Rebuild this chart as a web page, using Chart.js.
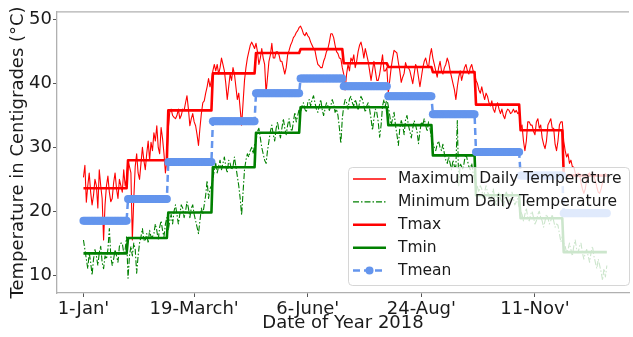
<!DOCTYPE html>
<html>
<head>
<meta charset="utf-8">
<script src="https://cdn.jsdelivr.net/npm/chart.js@4.4.1/dist/chart.umd.min.js"></script>
<style>
  html, body { margin: 0; padding: 0; background: #ffffff; }
  #wrap { width: 633px; height: 337px; }
</style>
</head>
<body>
<div id="wrap"><canvas id="chart" width="633" height="337"></canvas></div>
<script>
// First day-of-year index of each month (2018, not a leap year)
const monthStartDays = [0, 31, 59, 90, 120, 151, 181, 212, 243, 273, 304, 334];

// Tick positions (day of year) and their labels
const tickDays = [0, 77, 156, 235, 314];
const tickLabels = ["1-Jan'", "19-March'", "6-June'", "24-Aug'", "11-Nov'"];
const yTickValues = [10, 20, 30, 40, 50];

// Daily maximum temperature, one row per month
const dailyMax = [
  25.3,27.2,21.4,24,26,23,21,22.5,25,24,20.5,26.5,24,22,15.5,21,24,25.5,23,21.5,22,24.5,26,23.5,22,25,24,23,26.5,24,25,
  28,27,26,15.5,22,27,29,26,25,27.5,30,28,26.5,29,31,28,30.8,29.5,32.3,31,33.4,30,29,33.1,31.4,29,26,28,
  33,35.5,36,35,34.7,34.5,35,36,34.5,35,36,35.8,37,38.1,36,33.4,34.5,35.3,34,33.4,32,30.3,33,35.3,37,37.3,38.5,39.5,40.8,39.5,40.5,
  42,43,42,43,41.5,42.5,44,43,42,40,37.5,39.5,41.5,40.5,42.5,41.5,39.5,37.5,38.5,36,33.5,37,40.5,42.5,44,45,46,46.5,46,45.5,
  46.3,45,43,44,45.5,44,43,38.5,41,43.5,44.5,46.3,44,44,45,45,44.5,43.5,43.5,42.5,41.5,42.5,44.5,45.2,46,46.5,47.2,47.5,48,48.3,48.8,
  49,48.5,47.8,47.5,48,47.5,47.2,46.5,46,45.5,45.2,44,43,42.8,42.5,42.5,43.5,44.1,45,45.5,46.5,47.8,47.8,47.2,46,45,44.7,44,43.9,42.5,
  41.5,39,41.5,43,42,44,43.5,44.5,42.5,43.5,45,46,46.5,45.5,44,45.5,44.5,43.5,42,40.5,42,43.5,42,40.5,40.5,41.5,43,44.5,42,42,42.5,
  38.5,40.5,42.5,44,45.2,45,44.8,43.3,42,40.2,41,41.6,43.3,42.5,42.5,42,41,40,41.5,43,42.5,41,39.5,41,42.5,43.5,44,43,42.5,44.4,45.5,
  44,43,42,41,42.5,43.5,42,41.5,42.5,43,44,43.3,42,41,40,39,37.5,39.5,41,42,40.5,41.5,42.5,43,42,41.5,42.5,43,42,41.5,
  40.5,40,39,38.5,39.5,38.4,37.5,38.5,38,37,36.5,37.3,36,35.5,36.5,37,36,35.3,36,35,34.5,35.5,36,35.8,35.3,35.5,36,35.5,35.8,35.3,35.5,
  33,33.5,31,29.5,31,34,34,33.5,33.5,32.5,32,34,34.5,33,33.5,31.5,30.5,29.8,31,33.5,34,34.5,33,33,30.5,29.5,31,33.5,34,34,
  31,29.5,28.5,29,27.5,28,27,26.9,26,25.5,26,25.8,24.5,23.5,22.8,23.5,25,25.8,26,25.5,25.9,25.5,24.8,23.8,23,22.8,23.5,24.5,25.5,25.9,25.6
];

// Daily minimum temperature, one row per month
const dailyMin = [
  15.5,14,12.5,11,13.5,12,10,12.5,14,13,11.5,13.5,14.5,12,11,13,12.5,14,17.3,13,11.5,12.5,14,13,12,14.5,15,15,13.5,14,16,
  9.5,13,14.5,13,15,14,10.3,13,15,16,17.3,15.5,15.5,16.5,15,17,16,16,16.5,18,17,15.5,17.5,18.5,17,16,18,19,
  17,18.5,19.5,18,20,21,19.5,18,19.5,21,20.5,19,20,21.5,20.5,19,20.5,21,19.5,18.5,17.5,16.5,18.5,20.5,19.5,21,22.5,24.8,22,23.5,24,
  25,26.5,27.5,26,27,28,26.5,27.5,28.5,27,26,28,27.5,26.5,27,28.5,27,25.5,24,22,19.4,23,26.5,28,29,28.5,29.5,30,29,30.5,
  31,32.5,33,31.5,30,29,28,27.5,29.5,31,32.5,33.5,32,31,33,34,32.5,31.5,33,34.5,33,32,33.5,34.5,33,32.5,34,35.5,34,35,36,
  35.5,36.5,37,36,35.5,37,37.5,36.5,37.5,38.1,37,36,35.5,36.5,37.5,36,35,36,37,36.5,35.8,36.5,37.5,36.8,35.5,36,35,33,30.6,34.5,
  36.5,37.5,37,36,37.6,38,37,36.5,37.5,36.8,35.8,37,38,37.5,36.5,35.5,36.5,37,36,34.5,32.7,34.5,36,35.5,34,31.6,33.5,36.5,37.5,36.5,37.6,
  36.5,35,33.5,34.5,35.5,33.5,32,30.3,33,34.2,33.5,32,34.4,35,33.5,32.5,31.5,33,34.2,33.5,32.5,30.6,32.5,34,33.5,34.5,33.5,32.5,34,33,31.5,
  30.6,30,29.5,30.5,31,30,29.5,30.5,29,28,27.5,28.5,27.5,26.5,28,27,27,34.2,24,27.5,27,26.5,28,29,28,27,26.5,27.5,26,25,
  24.5,23.8,23,24,23.5,22,23,24,23,22.5,21.5,22.5,23.5,22,21,22.5,23,22,21.5,20.6,22,23,22.5,21.5,22,23,22,21,21.5,22,20.5,
  20,19.5,18.5,19.5,20.5,19,18.5,19.5,20,19,18,18.5,19.5,20,19,18.5,17.5,18.5,19.5,19,18,18.5,19.5,18.5,17.5,18,17.8,16.5,15.2,16,
  15,14.5,13.5,14,15,14,13,14.5,15.5,14,13.5,14.5,15,13.5,12.5,13.5,14,13,12,13.5,14.5,13,12,11,12.5,11.5,10.5,9.2,11,9.7,11.5
];

// Monthly summary temperatures
const monthlyTmax  = [23.6, 28.0, 35.8, 41.6, 44.8, 45.4, 43.2, 42.6, 41.8, 36.7, 32.7, 25.6];
const monthlyTmin  = [13.4, 15.8, 19.8, 26.9, 32.3, 36.3, 36.3, 33.5, 28.75, 22.5, 18.9, 13.6];
const monthlyTmean = [18.5, 21.9, 27.7, 34.1, 38.5, 40.8, 39.6, 38.0, 35.2, 29.3, 25.6, 19.7];

// ---- build point tables for Chart.js ----
function monthOfDay(day) {
  let m = 0;
  for (let i = 0; i < monthStartDays.length; i++) if (day >= monthStartDays[i]) m = i;
  return m;
}
const dailyPoints = (arr) => arr.map((v, d) => ({ x: d, y: v }));
const monthlyAsDaily = (arr) => dailyMax.map((_, d) => ({ x: d, y: arr[monthOfDay(d)] }));

const FONT = "'DejaVu Sans', 'Liberation Sans', sans-serif";
const TEXT = '#1a1a1a';
const SPINE = '#b0b0b0';

// Line styles, shared by the plotted series and the legend
const styles = [
  { label: 'Maximum Daily Temperature', color: '#ff0000', width: 1.1, keyWidth: 1.6, dash: [],             marker: 0 },
  { label: 'Minimum Daily Temperature', color: '#008000', width: 1.1, keyWidth: 1.4, dash: [6, 2, 1.5, 2], marker: 0 },
  { label: 'Tmax',                      color: '#ff0000', width: 2.6, keyWidth: 2.6, dash: [],             marker: 0 },
  { label: 'Tmin',                      color: '#008000', width: 2.6, keyWidth: 2.6, dash: [],             marker: 0 },
  { label: 'Tmean',                     color: '#6495ed', width: 2.5, keyWidth: 2.5, dash: [7, 4],         marker: 4 }
];
const seriesData = [
  dailyPoints(dailyMax),
  dailyPoints(dailyMin),
  monthlyAsDaily(monthlyTmax),
  monthlyAsDaily(monthlyTmin),
  monthlyAsDaily(monthlyTmean)
];

const datasets = styles.map((s, i) => ({
  label: s.label,
  data: seriesData[i],
  borderColor: s.color,
  borderWidth: s.width,
  borderDash: s.dash,
  borderJoinStyle: 'round',
  pointRadius: s.marker,
  pointHoverRadius: 0,
  pointBackgroundColor: s.color,
  pointBorderWidth: 0,
  fill: false,
  tension: 0,
  order: styles.length - i   // later series are drawn on top
}));

// Legend drawn inside the plot on a translucent panel
const boxLegend = {
  id: 'boxLegend',
  afterDraw(chart) {
    const ctx = chart.ctx;
    const bx = 348, by = 167, bw = 281, bh = 118, r = 4;
    ctx.save();
    ctx.beginPath();
    ctx.roundRect(bx + 0.5, by + 0.5, bw, bh, r);
    ctx.fillStyle = 'rgba(255,255,255,0.8)';
    ctx.fill();
    ctx.strokeStyle = 'rgba(204,204,204,0.8)';
    ctx.lineWidth = 1;
    ctx.stroke();

    const x0 = 353, x1 = 386, tx = 398, y0 = 179, dy = 22.9;
    ctx.font = '15.5px ' + FONT;
    ctx.textBaseline = 'middle';
    ctx.textAlign = 'left';
    styles.forEach((s, i) => {
      const y = y0 + i * dy;
      ctx.beginPath();
      ctx.setLineDash(s.dash);
      ctx.strokeStyle = s.color;
      ctx.lineWidth = s.keyWidth;
      ctx.moveTo(x0, y);
      ctx.lineTo(x1, y);
      ctx.stroke();
      ctx.setLineDash([]);
      if (s.marker > 0) {
        ctx.beginPath();
        ctx.arc((x0 + x1) / 2, y, s.marker, 0, Math.PI * 2);
        ctx.fillStyle = s.color;
        ctx.fill();
      }
      ctx.fillStyle = TEXT;
      ctx.fillText(s.label, tx, y);
    });
    ctx.restore();
  }
};

// Top frame line of the plotting area
const topFrame = {
  id: 'topFrame',
  beforeDatasetsDraw(chart) {
    const { ctx, chartArea } = chart;
    ctx.save();
    ctx.strokeStyle = SPINE;
    ctx.lineWidth = 1.3;
    ctx.beginPath();
    ctx.moveTo(chartArea.left, chartArea.top);
    ctx.lineTo(chartArea.right, chartArea.top);
    ctx.stroke();
    ctx.restore();
  }
};

new Chart(document.getElementById('chart'), {
  type: 'line',
  data: { datasets },
  options: {
    responsive: false,
    animation: false,
    devicePixelRatio: 1,
    layout: { padding: { top: 11, right: 0, bottom: 0, left: 0 } },
    plugins: { legend: { display: false }, tooltip: { enabled: false } },
    events: [],
    scales: {
      x: {
        type: 'linear',
        min: -18.4, max: 379.4,
        afterBuildTicks: (s) => { s.ticks = tickDays.map(v => ({ value: v })); },
        afterFit: (s) => { s.height = 44; },
        ticks: {
          autoSkip: false, maxRotation: 0, padding: 2,
          color: TEXT, font: { family: FONT, size: 18 },
          callback: (v) => tickLabels[tickDays.indexOf(v)] ?? ''
        },
        grid: { drawOnChartArea: false, drawTicks: true, tickLength: 4, tickColor: '#555555' },
        border: { display: true, color: SPINE, width: 1.3 },
        title: {
          display: true, text: 'Date of Year 2018',
          color: TEXT, font: { family: FONT, size: 18 },
          padding: { top: 0, bottom: 3 }
        }
      },
      y: {
        type: 'linear',
        min: 7.19, max: 51.25,
        afterBuildTicks: (s) => { s.ticks = yTickValues.map(v => ({ value: v })); },
        afterFit: (s) => { s.width = 57; },
        ticks: {
          padding: 1, color: TEXT, font: { family: FONT, size: 18 }
        },
        grid: { drawOnChartArea: false, drawTicks: true, tickLength: 4, tickColor: '#555555' },
        border: { display: true, color: SPINE, width: 1.3 },
        title: {
          display: true, text: 'Temperature in Centigrades (°C)',
          color: TEXT, font: { family: FONT, size: 18 },
          padding: { top: 8, bottom: 0 }
        }
      }
    }
  },
  plugins: [topFrame, boxLegend]
});
</script>
</body>
</html>
